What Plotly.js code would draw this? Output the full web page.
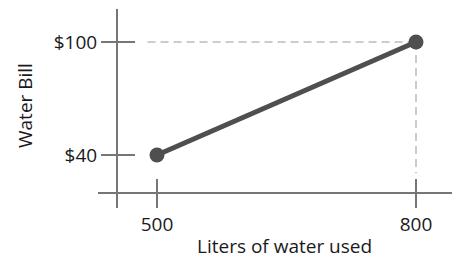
<!DOCTYPE html>
<html>
<head>
<meta charset="utf-8">
<script src="https://cdn.plot.ly/plotly-3.0.1.min.js"></script>
<style>html,body{margin:0;padding:0;background:#fff;}#chart{width:459px;height:258px;}</style>
</head>
<body>
<div id="chart"></div>
<script>
// Data
const litersUsed = [500, 800];
const waterBill = [40, 100];
const xTickVals = [500, 800];
const xTickText = ['500', '800'];
const yTickVals = [40, 100];
const yTickText = ['$40', '$100'];
const xTitle = 'Liters of water used';
const yTitle = 'Water Bill';

const xRange = [431.7, 841.7];
const yRange = [11.85, 117.5];
const FONT = 'Open Sans, DejaVu Sans, sans-serif';
const FS = 19;
const TXT = '#1a1a1a';
const AXC = '#767676';

// guide lines from the upper point back toward the axes
const hx0 = xRange[0] + (xRange[1] - xRange[0]) * 0.14;
const vy0 = yRange[0] + (yRange[1] - yRange[0]) * 0.175;
const px = litersUsed[litersUsed.length - 1];
const py = waterBill[waterBill.length - 1];

const traces = [
  {x: [hx0, px], y: [py, py], mode: 'lines', line: {color: '#cccccc', width: 2, dash: '8px,5px'}, hoverinfo: 'skip'},
  {x: [px, px], y: [py, vy0], mode: 'lines', line: {color: '#cccccc', width: 2, dash: '8px,5px'}, hoverinfo: 'skip'},
  {x: litersUsed, y: waterBill, mode: 'lines+markers',
   line: {color: '#4f4f4f', width: 5}, marker: {color: '#4f4f4f', size: 15}}
];

const xPos = 15 / 199;
const yPos = 19 / 354;

const layout = {
  width: 459, height: 258,
  margin: {l: 98, r: 7, t: 9, b: 50},
  paper_bgcolor: '#fff', plot_bgcolor: '#fff',
  showlegend: false,
  font: {family: FONT, size: FS, color: TXT},
  xaxis: {range: xRange, anchor: 'free', position: xPos, showgrid: false, zeroline: false,
          showline: true, linecolor: AXC, linewidth: 2,
          tickvals: xTickVals, ticktext: xTickText, ticks: 'outside', ticklen: 14, tickwidth: 2, tickcolor: AXC,
          tickfont: {family: FONT, size: FS, color: TXT}},
  xaxis2: {range: xRange, overlaying: 'x', anchor: 'free', position: xPos, showgrid: false, zeroline: false,
           showline: false, tickvals: xTickVals, ticks: 'inside', ticklen: 14, tickwidth: 2, tickcolor: AXC,
           showticklabels: false},
  yaxis: {range: yRange, anchor: 'free', position: yPos, showgrid: false, zeroline: false,
          showline: true, linecolor: AXC, linewidth: 2,
          tickvals: yTickVals, ticktext: yTickText, ticks: 'outside', ticklen: 15, tickwidth: 2, tickcolor: AXC,
          tickfont: {family: FONT, size: FS, color: TXT}},
  yaxis2: {range: yRange, overlaying: 'y', anchor: 'free', position: yPos, showgrid: false, zeroline: false,
           showline: false, tickvals: yTickVals, ticks: 'inside', ticklen: 17, tickwidth: 2, tickcolor: AXC,
           showticklabels: false},
  annotations: [
    {text: xTitle, xref: 'paper', yref: 'paper', x: 0.528, y: -0.191, xanchor: 'center', yanchor: 'middle',
     showarrow: false, font: {family: FONT, size: FS, color: TXT}},
    {text: yTitle, xref: 'paper', yref: 'paper', x: -0.206, y: 0.513, xanchor: 'center', yanchor: 'middle',
     textangle: -90, showarrow: false, font: {family: FONT, size: FS, color: TXT}}
  ]
};

// dummy trace to activate overlay axes
traces.push({x: [xRange[0]], y: [yRange[0]], xaxis: 'x2', yaxis: 'y2', mode: 'markers', marker: {opacity: 0}, hoverinfo: 'skip'});

Plotly.newPlot('chart', traces, layout, {displayModeBar: false, staticPlot: true});
</script>
</body>
</html>
